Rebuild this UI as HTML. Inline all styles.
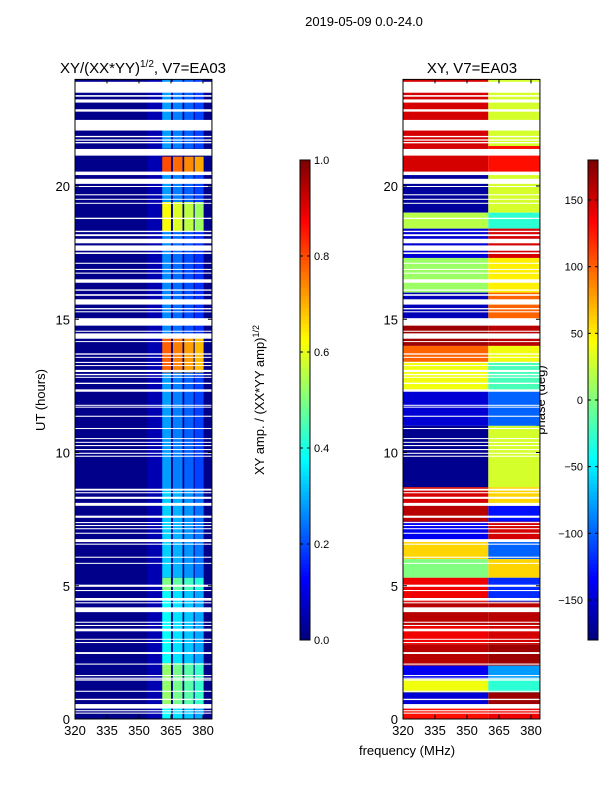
<!DOCTYPE html>
<html><head><meta charset="utf-8"><style>
body{margin:0;background:#fff;}
svg text{font-family:"Liberation Sans",sans-serif;fill:#000;}
</style></head><body>
<svg id="fig" width="600" height="800" xmlns="http://www.w3.org/2000/svg">
<text x="364" y="26" font-size="13" text-anchor="middle">2019-05-09 0.0-24.0</text>
<text x="143" y="73" font-size="15" text-anchor="middle">XY/(XX*YY)<tspan font-size="10" dy="-6">1/2</tspan><tspan dy="6">, V7=EA03</tspan></text>
<text x="472" y="73" font-size="15" text-anchor="middle">XY, V7=EA03</text>
<text transform="translate(45,400) rotate(-90)" font-size="13" text-anchor="middle">UT (hours)</text>
<text transform="translate(264,400) rotate(-90)" font-size="13" text-anchor="middle">XY amp. / (XX*YY amp)<tspan font-size="9" dy="-5">1/2</tspan></text>
<text transform="translate(545,400) rotate(-90)" font-size="13" text-anchor="middle">phase (deg)</text>
<text x="407" y="755" font-size="13" text-anchor="middle">frequency (MHz)</text>
<g id="g"></g>
</svg>
<script>
const flags=[[23.5,23.91],[23.35,23.41],[23.13,23.25],[22.79,22.88],[22.08,22.48],[21.83,21.88],[21.7,21.75],[21.6,21.65],[21.14,21.39],[20.41,20.54],[20.08,20.27],[19.97,20.0],[19.65,19.69],[19.5,19.52],[19.34,19.37],[18.76,18.81],[18.27,18.32],[18.12,18.19],[17.85,18.02],[17.57,17.77],[17.45,17.51],[17.08,17.12],[16.85,16.89],[16.71,16.75],[16.37,16.5],[16.07,16.12],[15.88,15.94],[15.55,15.75],[15.37,15.42],[15.26,15.3],[14.76,15.04],[14.53,14.57],[14.27,14.47],[14.15,14.18],[13.67,13.72],[13.57,13.59],[13.36,13.4],[13.25,13.28],[13.02,13.1],[12.9,12.95],[12.81,12.84],[12.57,12.62],[12.28,12.37],
[11.76,11.79],[11.7,11.72],[11.34,11.38],[10.88,10.92],[10.51,10.54],[10.37,10.4],[10.24,10.28],[10.09,10.13],[9.95,9.99],[9.84,9.88],[8.57,8.64],[8.47,8.51],[8.26,8.34],[8.0,8.11],[7.55,7.63],[7.35,7.39],[7.24,7.28],[7.12,7.16],[6.95,6.99],[6.64,6.75],[6.54,6.58],[6.05,6.09],[5.83,5.86],[4.96,5.04],[4.8,4.84],[4.44,4.54],[4.34,4.38],[4.01,4.19],[3.61,3.65],[3.49,3.53],[3.29,3.39],[2.98,3.01],[2.85,2.89],[2.44,2.51],[2.04,2.08],[1.61,1.65],[1.51,1.55],[1.44,1.49],[1.02,1.06],[0.71,0.76],[0.39,0.56],[0.29,0.33],[0.2,0.24]];
const chanLo=[360.9,365.9,371.2,376.1];
const chanHi=[365.0,370.4,375.6,380.3];
const ampBands=[[21.4,24,0.28],[20.5,21.1,0.8],[19.4,20.5,0.28],[18.3,19.4,0.62],[14.3,18.3,0.26],[13.0,14.3,0.78],[8.6,13.0,0.28],[5.3,8.6,0.33],[4.8,5.3,0.5],[2.1,4.8,0.38],[0.5,2.1,0.52],[0,0.5,0.38]];
const phaseBands=[[21.5,24,150,30],[20.5,21.5,150,130],[19,20.5,-170,30],[18.4,19,20,-30],[17.3,18.4,-150,150],[16,17.3,10,50],[15,16,-160,100],[14,15,170,160],[13.4,14,100,40],[12.3,13.4,40,-20],[11,12.3,-150,-100],[8.7,11,-175,30],[8,8.7,150,60],[7.4,8,160,-130],[6.7,7.4,-140,150],[6,6.7,60,-100],[5.3,6,0,60],[4.4,5.3,140,-120],[3.5,4.4,160,160],[2.8,3.5,140,150],[2,2.8,160,170],[1.5,2,-140,-80],[1,1.5,40,-30],[0.5,1,-150,170],[0,0.5,130,140]];
const xTicks=[320,335,350,365,380];
const yTicks=[0,5,10,15,20];
const ampTicks=[0,0.2,0.4,0.6,0.8,1.0];
const phTicks=[-150,-100,-50,0,50,100,150];

function jet(v){v=Math.max(0,Math.min(1,v));
 const r=Math.max(0,Math.min(1,1.5-Math.abs(4*v-3))),g=Math.max(0,Math.min(1,1.5-Math.abs(4*v-2))),b=Math.max(0,Math.min(1,1.5-Math.abs(4*v-1)));
 return `rgb(${Math.round(r*255)},${Math.round(g*255)},${Math.round(b*255)})`;}
const NS='http://www.w3.org/2000/svg';const G=document.getElementById('g');
function el(t,a,p){const e=document.createElementNS(NS,t);for(const k in a)e.setAttribute(k,a[k]);(p||G).appendChild(e);return e;}
const Y=u=>719-(u)*26.65;
function panel(x0,name){return{x0,X:f=>x0+(f-320)*2.133,name};}
const L=panel(75,'amp'),R=panel(403,'phase');
const x1L=L.X(384.2),x1R=R.X(384.2);
const lg=el('g',{});


el('rect',{x:75,y:Y(24),width:x1L-75,height:Y(0)-Y(24),fill:jet(0.01)},lg);
el('rect',{x:L.X(354),y:Y(24),width:L.X(361)-L.X(354),height:Y(0)-Y(24),fill:jet(0.05)},lg);
ampBands.forEach(b=>{chanLo.forEach((lo,i)=>{
 const r=el('rect',{x:L.X(lo),y:Y(b[1]),width:L.X(chanHi[i])-L.X(lo),height:Y(b[0])-Y(b[1]),fill:jet(b[2]-i*0.03)},lg);
 
 });});
const rg=el('g',{});


phaseBands.forEach(b=>{
 const a=el('rect',{x:403,y:Y(b[1]),width:R.X(360)-403,height:Y(b[0])-Y(b[1]),fill:jet((b[2]+180)/360)},rg);
 
 
 const c=el('rect',{x:R.X(360),y:Y(b[1]),width:x1R-R.X(360),height:Y(b[0])-Y(b[1]),fill:jet((b[3]+180)/360)},rg);
 
 });
[[75,x1L],[403,x1R]].forEach(p=>flags.forEach(f=>{
 const r=el('rect',{x:p[0],y:Y(f[1]),width:p[1]-p[0],height:Math.max(1,Y(f[0])-Y(f[1])),fill:'#fff'});
 
 }));
[[L,x1L],[R,x1R]].forEach(([P,x1])=>{
 el('rect',{x:P.x0,y:Y(24),width:x1-P.x0,height:Y(0)-Y(24),fill:'none',stroke:'#000','stroke-width':1});
 xTicks.forEach(t=>{const x=P.X(t);
  el('line',{x1:x,x2:x,y1:Y(0),y2:Y(0)-4,stroke:'#000'});el('line',{x1:x,x2:x,y1:Y(24),y2:Y(24)+4,stroke:'#000'});
  const tx=el('text',{x:x,y:Y(0)+16,'font-size':13,'text-anchor':'middle'});tx.textContent=t;
  
  });
 yTicks.forEach(t=>{const y=Y(t);
  el('line',{x1:P.x0,x2:P.x0+4,y1:y,y2:y,stroke:'#000'});el('line',{x1:x1,x2:x1-4,y1:y,y2:y,stroke:'#000'});
  const tx=el('text',{x:P.x0-5,y:y+5,'font-size':13,'text-anchor':'end'});tx.textContent=t;
  
  });
});
function cbar(x,vals,lab,lx,anchor,fmt){
 const g=el('g',{});
 
 
 for(let i=0;i<120;i++)el('rect',{x:x,y:640-(i+1)*4,width:10,height:4.3,fill:jet(i/119)},g);
 el('rect',{x:x,y:160,width:10,height:480,fill:'none',stroke:'#000'},g);
 vals.forEach(v=>{const y=640-lab(v)*480;
  el('line',{x1:x,x2:x+3,y1:y,y2:y,stroke:'#000'},g);el('line',{x1:x+10,x2:x+7,y1:y,y2:y,stroke:'#000'},g);
  const t=el('text',{x:lx,y:y+4,'font-size':11,'text-anchor':anchor},g);t.textContent=fmt(v);
  
  });
}
cbar(300,ampTicks,v=>v,314,'start',v=>v.toFixed(1));
cbar(588,phTicks,v=>(v+180)/360,583,'end',v=>v<0?'\u2212'+(-v):''+v);
</script>
</body></html>
